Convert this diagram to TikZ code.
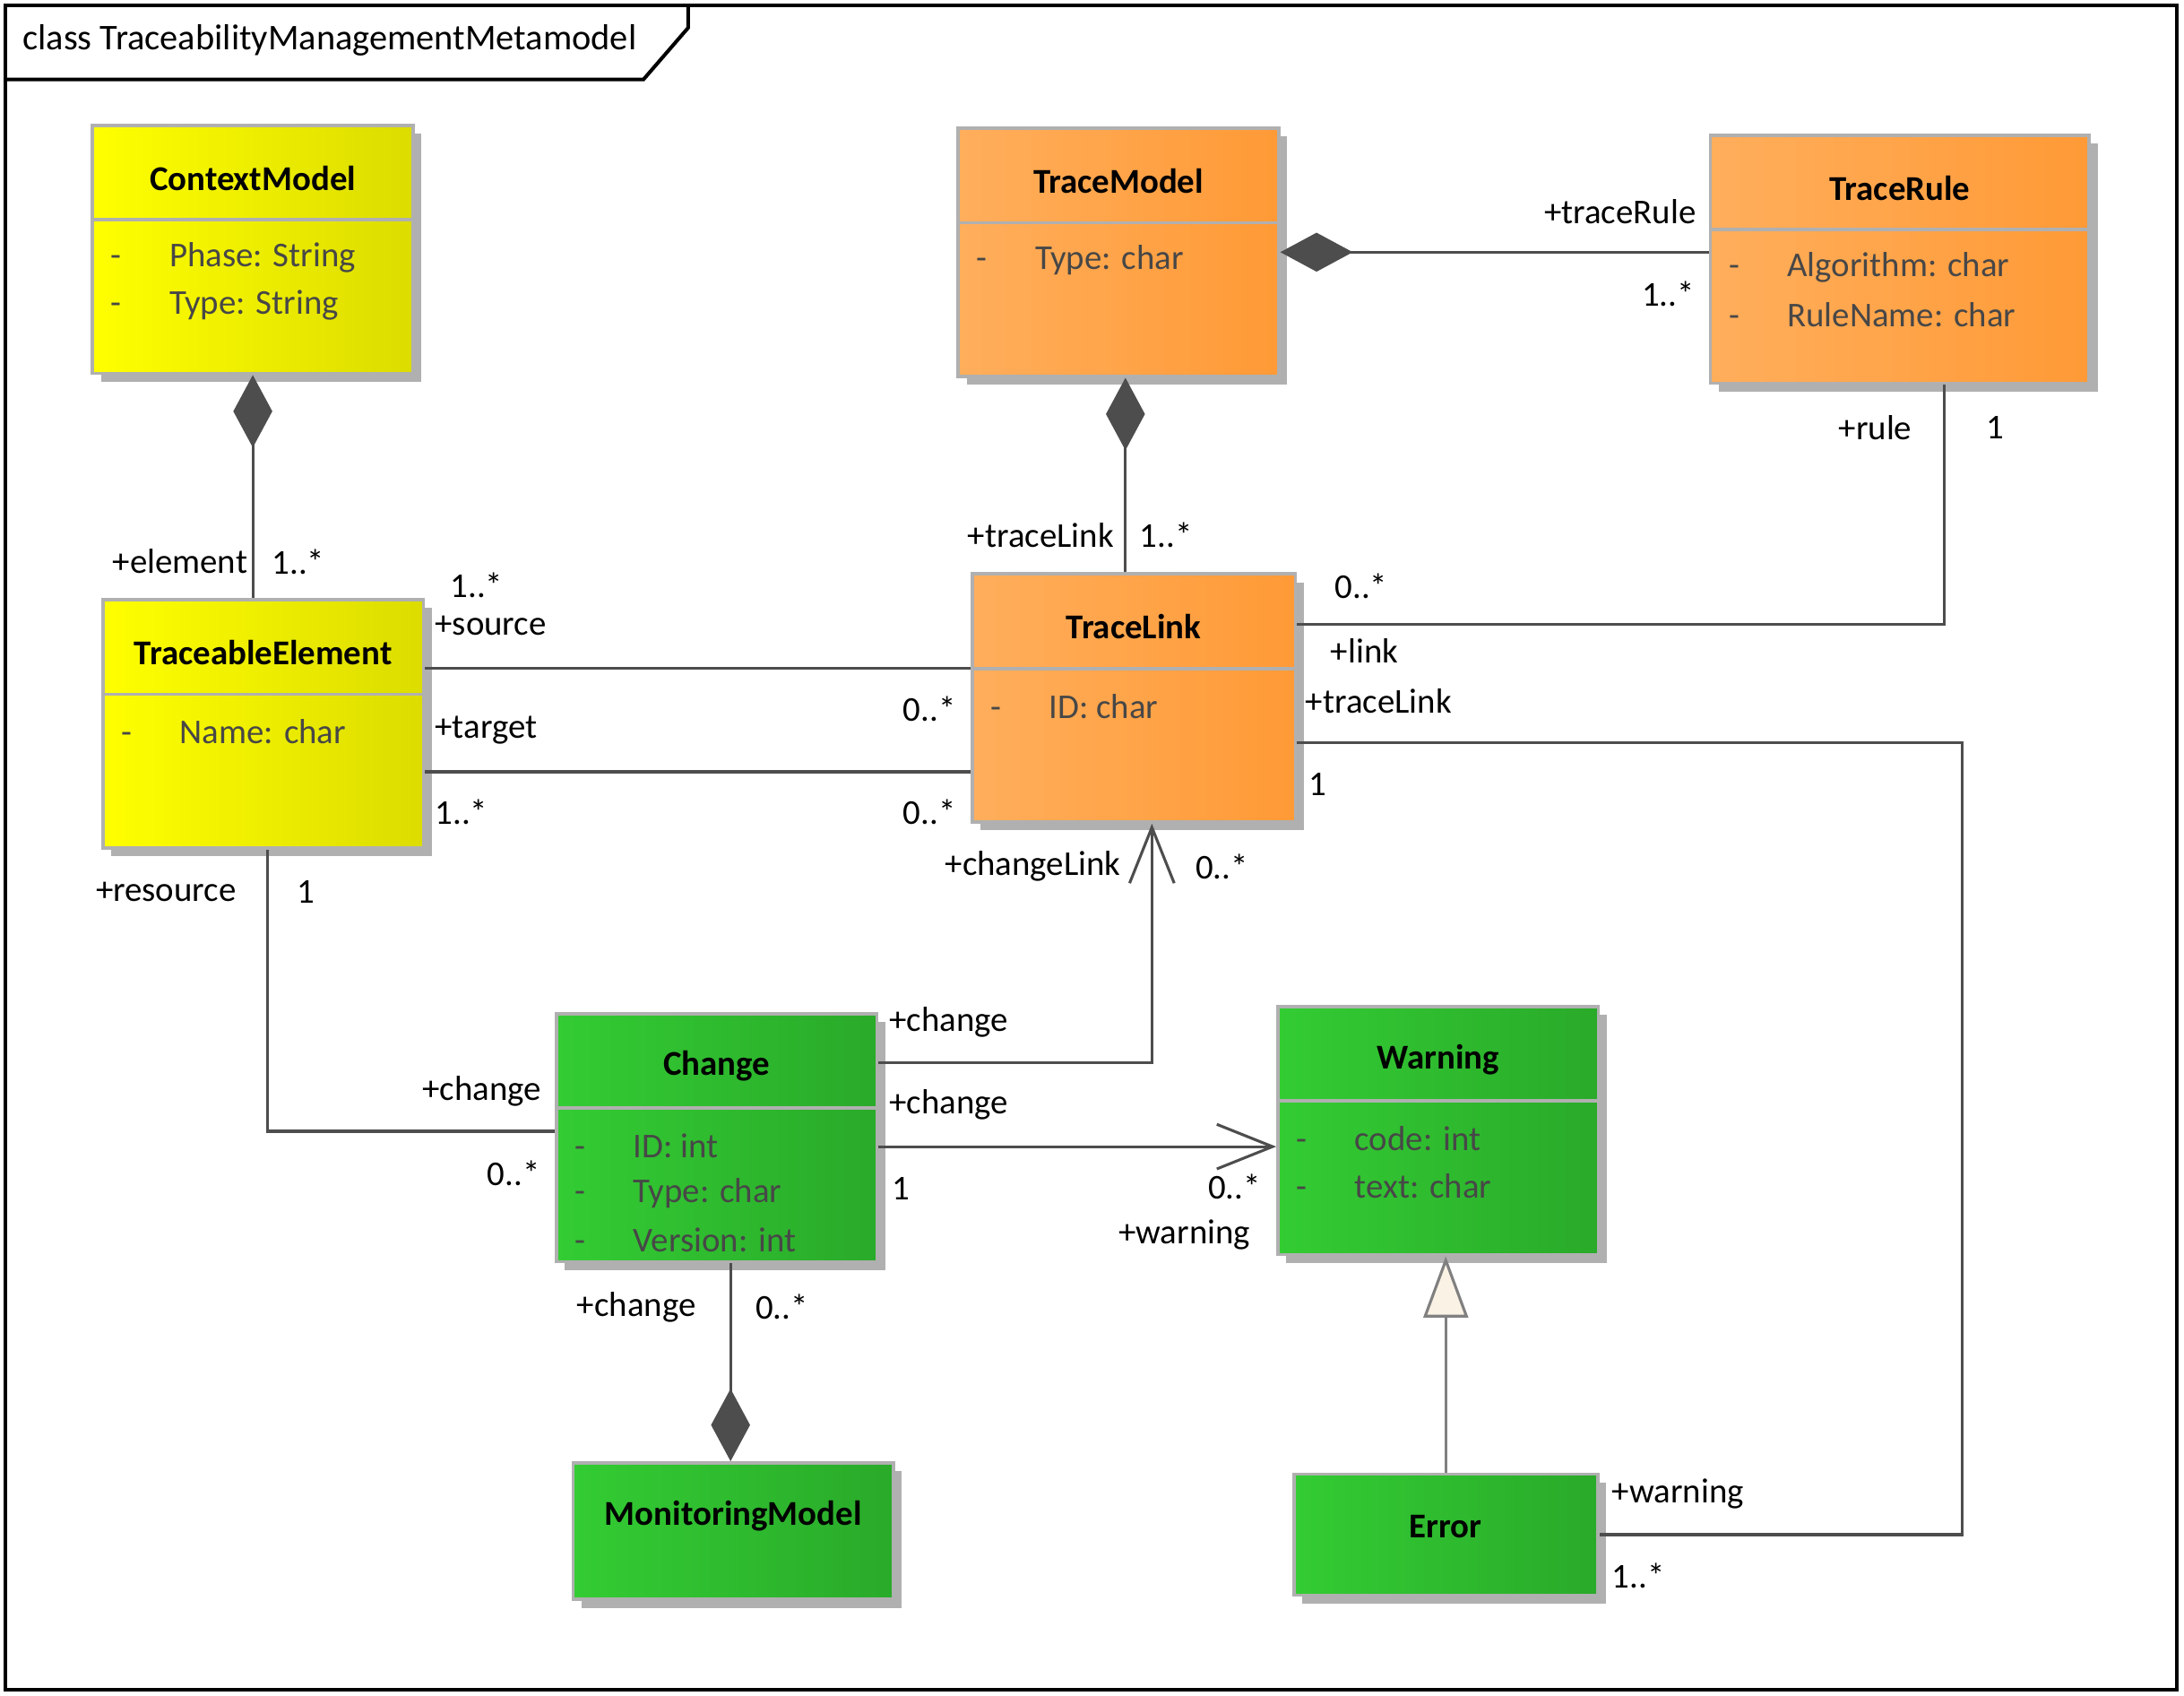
\documentclass[tikz,border=0pt]{standalone}
\usepackage{fontspec}
\setmainfont{Carlito}
\usetikzlibrary{positioning, arrows.meta, shadows}

\definecolor{boxgray}{HTML}{B0B0B0}
\definecolor{linegray}{HTML}{4D4D4D}
\definecolor{yellowL}{HTML}{FFFF00}
\definecolor{yellowR}{HTML}{DCDC00}
\definecolor{orangeL}{HTML}{FFAE5C}
\definecolor{orangeR}{HTML}{FF9A36}
\definecolor{greenL}{HTML}{33CC33}
\definecolor{greenR}{HTML}{2AAA2A}
\definecolor{genfill}{HTML}{FAF2E4}

\tikzset{
    classbox/.style={draw=boxgray, line width=1.2pt, minimum width=115pt, minimum height=89pt, inner sep=0pt,
        drop shadow={shadow xshift=3pt, shadow yshift=-3pt, opacity=1, fill=boxgray}},
    yellowbox/.style={classbox, left color=yellowL, right color=yellowR},
    orangebox/.style={classbox, left color=orangeL, right color=orangeR},
    greenbox/.style={classbox, left color=greenL, right color=greenR},
    divider/.style={draw=boxgray, line width=1.2pt},
    classname/.style={font=\fontsize{12.5}{15}\selectfont\bfseries, inner sep=0pt},
    attr/.style={anchor=west, inner sep=0pt, text=black!72},
    lbl/.style={anchor=west, inner sep=0pt},
    assoc/.style={draw=linegray, line width=1pt},
    compo/.style={assoc, {Diamond[length=26pt, width=14pt]}-},
    navig/.style={assoc, -{Straight Barb[length=20pt, width=16pt]}},
    generalize/.style={draw=gray, line width=1pt, -{Triangle[open, length=22pt, width=16pt, fill=genfill]}},
}

\begin{document}
\begin{tikzpicture}[x=0.5pt, y=-0.5pt, font=\fontsize{12.5}{15}\selectfont]
    \useasboundingbox (0,0) rectangle (1568,1217);
    % frame
    \draw[line width=1.3pt] (4,4) rectangle (1563,1213);
    \draw[line width=1.3pt] (4,57) -- (462,57) -- (494,20) -- (494,4);
    \node[lbl, font=\fontsize{13}{15}\selectfont] (frameT) at (16,29) {class TraceabilityManagementMetamodel};

    % classes
    \node[yellowbox] (cm) at (181.5,179) {};
    \draw[divider] ([yshift=-34.5pt]cm.north west) -- ([yshift=-34.5pt]cm.north east);
    \node[classname] (cmT) at ([yshift=-19.5pt]cm.north) {ContextModel};
    \node[attr] (cmA1) at ([xshift=7pt,yshift=-48pt]cm.north west) {\makebox[21pt][l]{-}Phase: String};
    \node[attr] (cmA2) at ([xshift=7pt,yshift=-65pt]cm.north west) {\makebox[21pt][l]{-}Type: String};

    \node[orangebox] (tm) at (803,181) {};
    \draw[divider] ([yshift=-34.5pt]tm.north west) -- ([yshift=-34.5pt]tm.north east);
    \node[classname] (tmT) at ([yshift=-19.5pt]tm.north) {TraceModel};
    \node[attr] (tmA1) at ([xshift=7pt,yshift=-48pt]tm.north west) {\makebox[21pt][l]{-}Type: char};

    \node[orangebox, minimum width=136pt] (tr) at (1364,186) {};
    \draw[divider] ([yshift=-34.5pt]tr.north west) -- ([yshift=-34.5pt]tr.north east);
    \node[classname] (trT) at ([yshift=-19.5pt]tr.north) {TraceRule};
    \node[attr] (trA1) at ([xshift=7pt,yshift=-48pt]tr.north west) {\makebox[21pt][l]{-}Algorithm: char};
    \node[attr] (trA2) at ([xshift=7pt,yshift=-65pt]tr.north west) {\makebox[21pt][l]{-}RuleName: char};

    \node[yellowbox] (te) at (189,519.5) {};
    \draw[divider] ([yshift=-34.5pt]te.north west) -- ([yshift=-34.5pt]te.north east);
    \node[classname] (teT) at ([yshift=-19.5pt]te.north) {TraceableElement};
    \node[attr] (teA1) at ([xshift=7pt,yshift=-48pt]te.north west) {\makebox[21pt][l]{-}Name: char};

    \node[orangebox, minimum width=116pt] (tl) at (814,501) {};
    \draw[divider] ([yshift=-34.5pt]tl.north west) -- ([yshift=-34.5pt]tl.north east);
    \node[classname] (tlT) at ([yshift=-19.5pt]tl.north) {TraceLink};
    \node[attr] (tlA1) at ([xshift=7pt,yshift=-48pt]tl.north west) {\makebox[21pt][l]{-}ID: char};

    \node[greenbox] (ch) at (514.5,816.5) {};
    \draw[divider] ([yshift=-34.5pt]ch.north west) -- ([yshift=-34.5pt]ch.north east);
    \node[classname] (chT) at ([yshift=-19.5pt]ch.north) {Change};
    \node[attr] (chA1) at ([xshift=7pt,yshift=-48pt]ch.north west) {\makebox[21pt][l]{-}ID: int};
    \node[attr] (chA2) at ([xshift=7pt,yshift=-65pt]ch.north west) {\makebox[21pt][l]{-}Type: char};
    \node[attr] (chA3) at ([xshift=7pt,yshift=-82pt]ch.north west) {\makebox[21pt][l]{-}Version: int};

    \node[greenbox] (wa) at (1032.5,811.5) {};
    \draw[divider] ([yshift=-34.5pt]wa.north west) -- ([yshift=-34.5pt]wa.north east);
    \node[classname] (waT) at ([yshift=-19.5pt]wa.north) {Warning};
    \node[attr] (waA1) at ([xshift=7pt,yshift=-48pt]wa.north west) {\makebox[21pt][l]{-}code: int};
    \node[attr] (waA2) at ([xshift=7pt,yshift=-65pt]wa.north west) {\makebox[21pt][l]{-}text: char};

    \node[greenbox, minimum height=49pt] (mm) at (526.5,1099) {};
    \node[classname] (mmT) at ([yshift=-19.5pt]mm.north) {MonitoringModel};

    \node[greenbox, minimum width=109pt, minimum height=43.5pt] (er) at (1038,1101.5) {};
    \node[classname] (erT) at ([yshift=-19.5pt]er.north) {Error};

    % connectors
    \draw[compo] (cm.south) -- (cm.south |- te.north);
    \draw[compo] ([xshift=2.5pt]tm.south) -- ([xshift=2.5pt]tm.south |- tl.north);
    \draw[compo] (tm.east) -- (tm.east -| tr.west);
    \draw[assoc] ([xshift=16pt]tr.south) |- ([yshift=26.5pt]tl.east);
    \draw[assoc] ([yshift=20pt]te.east) -- ([yshift=20pt]te.east -| tl.west);
    \draw[assoc] ([yshift=-17.25pt]te.east) -- ([yshift=-17.25pt]te.east -| tl.west);
    \coordinate (bendE) at (1409,1101.5);
    \draw[assoc] ([yshift=-16pt]tl.east) -| (bendE) -- (er.east);
    \draw[navig] ([yshift=26.75pt]ch.east) -| ([xshift=6.5pt]tl.south);
    \draw[navig] ([yshift=-3.25pt]ch.east) -- ([yshift=-3.25pt]ch.east -| wa.west);
    \draw[assoc] ([xshift=1.5pt]te.south) |- ([yshift=2.25pt]ch.west);
    \draw[compo] ([xshift=-1pt]mm.north) -- ([xshift=-1pt]mm.north |- ch.south);
    \draw[generalize] (er.north) -- (er.north |- wa.south);

    % role names and multiplicities
    \node[lbl, anchor=east] (lElem) at (178,403) {+element};
    \node[lbl] (mElem) at (195,403) {1..*};
    \node[lbl, anchor=east] (lTlink) at (800,384) {+traceLink};
    \node[lbl] (mTlink) at (818,384) {1..*};
    \node[lbl, anchor=east] (lTrule) at (1218,152) {+traceRule};
    \node[lbl, anchor=east] (mTrule) at (1217,211) {1..*};
    \node[lbl, anchor=east] (lRule) at (1373,307) {+rule};
    \node[lbl] (mRule) at (1426,307) {1};
    \node[lbl] (mLink) at (958,421) {0..*};
    \node[lbl] (lLink) at (955,467) {+link};
    \node[lbl] (mSrcA) at (323,420) {1..*};
    \node[lbl] (lSrc) at (312,449) {+source};
    \node[lbl] (mSrcB) at (648,509) {0..*};
    \node[lbl] (lTgt) at (312,524) {+target};
    \node[lbl] (mTgtA) at (312,583) {1..*};
    \node[lbl] (mTgtB) at (648,583) {0..*};
    \node[lbl] (lTlinkE) at (937,503) {+traceLink};
    \node[lbl] (mTlinkE) at (939,563) {1};
    \node[lbl] (lWarnE) at (1157,1072) {+warning};
    \node[lbl] (mWarnE) at (1157,1131) {1..*};
    \node[lbl, anchor=east] (lChLink) at (805,622) {+changeLink};
    \node[lbl] (mChLink) at (858,622) {0..*};
    \node[lbl] (lChA) at (638,734) {+change};
    \node[lbl] (lChB) at (638,793) {+change};
    \node[lbl] (mChB) at (640,853) {1};
    \node[lbl] (mWarn) at (867,852) {0..*};
    \node[lbl, anchor=east] (lWarn) at (898,886) {+warning};
    \node[lbl, anchor=east] (lRes) at (170,640) {+resource};
    \node[lbl] (mRes) at (213,640) {1};
    \node[lbl, anchor=east] (lChC) at (389,783) {+change};
    \node[lbl, anchor=east] (mChC) at (388,842) {0..*};
    \node[lbl, anchor=east] (lChM) at (500,938) {+change};
    \node[lbl] (mChM) at (542,938) {0..*};
\end{tikzpicture}
\end{document}
